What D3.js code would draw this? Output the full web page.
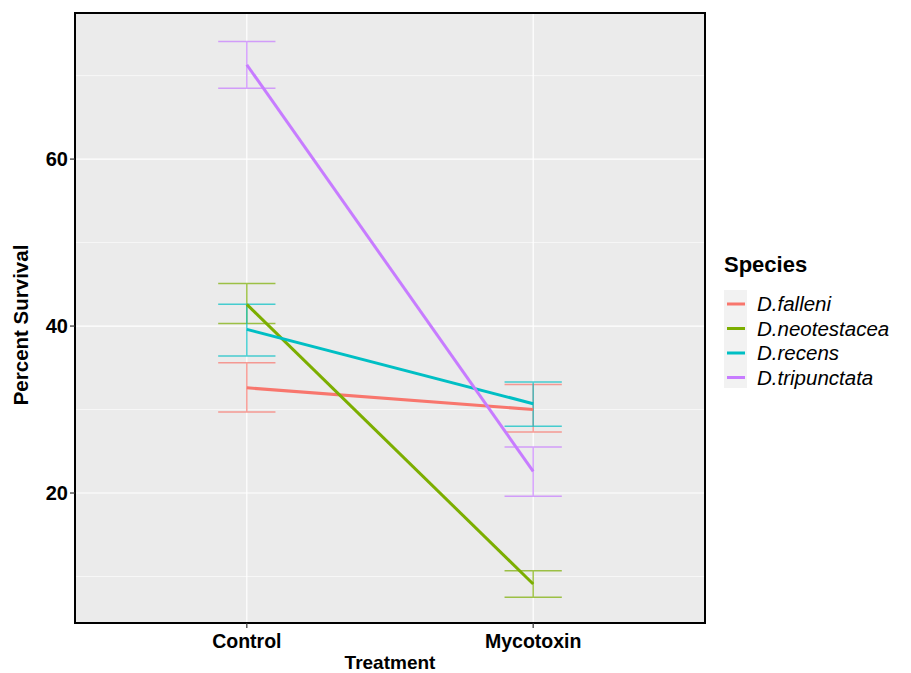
<!DOCTYPE html>
<head>
  <meta charset="utf-8">
  <script src="https://d3js.org/d3.v7.min.js"></script>
  <style>
    body { margin: 0; background: #fff; }
    text { font-family: "Liberation Sans", Arial, sans-serif; fill: #000; }
  </style>
</head>
<body>
<script>
// data
var treatments = ["Control", "Mycotoxin"];
var species = ["D.falleni", "D.neotestacea", "D.recens", "D.tripunctata"];
var colors = ["#F8766D", "#7CAE00", "#00BFC4", "#C77CFF"];
// mean survival per species, [Control, Mycotoxin]
var meanFalleni = [32.6, 30.0];
var meanNeotestacea = [42.6, 9.1];
var meanRecens = [39.6, 30.7];
var meanTripunctata = [71.3, 22.6];
// error bar limits [low, high] per treatment
var errFalleni = [[29.7, 35.6], [27.3, 33.0]];
var errNeotestacea = [[40.3, 45.1], [7.5, 10.7]];
var errRecens = [[36.4, 42.6], [28.0, 33.3]];
var errTripunctata = [[68.5, 74.1], [19.6, 25.5]];
var yMajor = [20, 40, 60];
var yMinor = [10, 30, 50, 70];

var means = [meanFalleni, meanNeotestacea, meanRecens, meanTripunctata];
var errs = [errFalleni, errNeotestacea, errRecens, errTripunctata];

var W = 911, H = 673;
var panel = {left: 75, right: 705, top: 13, bottom: 623};

var svg = d3.select("body").append("svg")
  .attr("width", W).attr("height", H);

// discrete axis, ggplot style: positions 1..n over [0.4, n+0.6]
var xl = d3.scaleLinear().domain([0.4, treatments.length + 0.6]).range([panel.left, panel.right]);
function xp(t) { return xl(treatments.indexOf(t) + 1); }
var y = d3.scaleLinear().domain([4.43, 77.5]).range([panel.bottom, panel.top]);

// panel background
svg.append("rect")
  .attr("x", panel.left).attr("y", panel.top)
  .attr("width", panel.right - panel.left).attr("height", panel.bottom - panel.top)
  .attr("fill", "#EBEBEB");

// grid
svg.selectAll(".minor").data(yMinor).enter().append("line")
  .attr("x1", panel.left).attr("x2", panel.right)
  .attr("y1", y).attr("y2", y)
  .attr("stroke", "#fff").attr("stroke-width", 0.6);
svg.selectAll(".major").data(yMajor).enter().append("line")
  .attr("x1", panel.left).attr("x2", panel.right)
  .attr("y1", y).attr("y2", y)
  .attr("stroke", "#fff").attr("stroke-width", 1.2);
svg.selectAll(".vmajor").data(treatments).enter().append("line")
  .attr("x1", xp).attr("x2", xp)
  .attr("y1", panel.top).attr("y2", panel.bottom)
  .attr("stroke", "#fff").attr("stroke-width", 1.2);

// error bars
var bw = xl(1.1) - xl(0.9);
species.forEach(function(s, i) {
  var g = svg.append("g")
    .attr("stroke", colors[i]).attr("stroke-width", 1.5).attr("opacity", 0.7);
  treatments.forEach(function(t, j) {
    var cx = xp(t), lo = errs[i][j][0], hi = errs[i][j][1];
    g.append("line").attr("x1", cx).attr("x2", cx).attr("y1", y(lo)).attr("y2", y(hi));
    g.append("line").attr("x1", cx - bw / 2).attr("x2", cx + bw / 2).attr("y1", y(lo)).attr("y2", y(lo));
    g.append("line").attr("x1", cx - bw / 2).attr("x2", cx + bw / 2).attr("y1", y(hi)).attr("y2", y(hi));
  });
});

// lines
var line = d3.line()
  .x(function(d, j) { return xp(treatments[j]); })
  .y(function(d) { return y(d); });
species.forEach(function(s, i) {
  svg.append("path")
    .datum(means[i])
    .attr("fill", "none")
    .attr("stroke", colors[i])
    .attr("stroke-width", 3)
    .attr("d", line);
});

// panel border
svg.append("rect")
  .attr("x", panel.left).attr("y", panel.top)
  .attr("width", panel.right - panel.left).attr("height", panel.bottom - panel.top)
  .attr("fill", "none").attr("stroke", "#000").attr("stroke-width", 2);

// y axis ticks and labels
var yt = svg.selectAll(".yt").data(yMajor).enter().append("g");
yt.append("line")
  .attr("x1", panel.left - 5).attr("x2", panel.left)
  .attr("y1", y).attr("y2", y)
  .attr("stroke", "#333").attr("stroke-width", 1.2);
yt.append("text")
  .attr("x", panel.left - 7).attr("y", y)
  .attr("dy", "0.36em")
  .attr("text-anchor", "end")
  .style("font-size", "20px").style("font-weight", "bold")
  .text(function(d) { return d; });

// x axis ticks and labels
var xt = svg.selectAll(".xt").data(treatments).enter().append("g");
xt.append("line")
  .attr("x1", xp).attr("x2", xp)
  .attr("y1", panel.bottom).attr("y2", panel.bottom + 5)
  .attr("stroke", "#333").attr("stroke-width", 1.2);
xt.append("text")
  .attr("x", xp).attr("y", 648)
  .attr("text-anchor", "middle")
  .style("font-size", "19.5px").style("font-weight", "bold")
  .text(function(d) { return d; });

// axis titles
svg.append("text")
  .attr("x", (panel.left + panel.right) / 2).attr("y", 669)
  .attr("text-anchor", "middle")
  .style("font-size", "19px").style("font-weight", "bold")
  .text("Treatment");
svg.append("text")
  .attr("transform", "translate(28,325)rotate(-90)")
  .attr("text-anchor", "middle")
  .style("font-size", "20.5px").style("font-weight", "bold")
  .text("Percent Survival");

// legend
var lg = svg.append("g");
lg.append("text")
  .attr("x", 724).attr("y", 272)
  .style("font-size", "22px").style("font-weight", "bold")
  .text("Species");
lg.append("rect")
  .attr("x", 724).attr("y", 290).attr("width", 23).attr("height", 98)
  .attr("fill", "#F2F2F2");
var li = lg.selectAll(".li").data(species).enter().append("g")
  .attr("transform", function(d, i) { return "translate(0," + (304 + i * 24.5) + ")"; });
li.append("line")
  .attr("x1", 727).attr("x2", 745)
  .attr("stroke", function(d, i) { return colors[i]; })
  .attr("stroke-width", 3);
li.append("text")
  .attr("x", 757).attr("dy", "0.36em")
  .style("font-size", "20.5px").style("font-style", "italic")
  .text(function(d) { return d; });
</script>
</body>
